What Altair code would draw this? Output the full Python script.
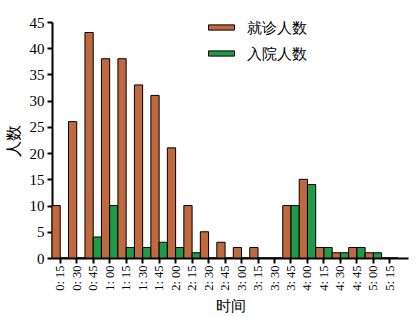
import altair as alt
import pandas as pd

times = ["0:15", "0:30", "0:45", "1:00", "1:15", "1:30", "1:45", "2:00", "2:15", "2:30",
         "2:45", "3:00", "3:15", "3:30", "3:45", "4:00", "4:15", "4:30", "4:45", "5:00", "5:15"]
visits = [10, 26, 43, 38, 38, 33, 31, 21, 10, 5, 3, 2, 2, 0, 10, 15, 2, 1, 2, 1, 0]
admits = [0, 0, 4, 10, 2, 2, 3, 2, 1, 0, 0, 0, 0, 0, 10, 14, 2, 1, 2, 1, 0]
series = ["就诊人数", "入院人数"]
colors = ["#C0693F", "#1E9A48"]

rows = []
for t, v, a in zip(times, visits, admits):
    rows.append({"time": t, "series": series[0], "value": v})
    rows.append({"time": t, "series": series[1], "value": a})
df = pd.DataFrame(rows)

font = "Liberation Serif"

chart = alt.Chart(df).mark_bar(stroke="black", strokeWidth=1).encode(
    x=alt.X("time:N", sort=times,
            scale=alt.Scale(paddingInner=0, paddingOuter=0.3, align=0),
            axis=alt.Axis(title="时间", labelAngle=-90, labelExpr="replace(datum.label, ':', ': ')",
                          labelFontSize=12.5, labelFont=font, labelColor="black",
                          titleFontSize=15, titleFont=font, titleFontWeight="normal", titleColor="black",
                          domainColor="black", domainWidth=2, tickColor="black", tickWidth=2,
                          tickSize=5, labelPadding=2, titlePadding=8)),
    xOffset=alt.XOffset("series:N", sort=series, scale=alt.Scale(paddingInner=0, paddingOuter=0)),
    y=alt.Y("value:Q", scale=alt.Scale(domain=[0, 45], nice=False),
            axis=alt.Axis(title="人数", values=list(range(0, 46, 5)),
                          labelFontSize=15, labelFont=font, labelColor="black",
                          titleFontSize=16, titleFont=font, titleFontWeight="normal", titleColor="black",
                          domainColor="black", domainWidth=2, tickColor="black", tickWidth=2,
                          tickSize=5, grid=False, labelPadding=3, titlePadding=8)),
    color=alt.Color("series:N", sort=series,
                    scale=alt.Scale(domain=series, range=colors),
                    legend=alt.Legend(title=None, orient="none", legendX=156, legendY=-8,
                                      symbolType="M-1,-0.2H1V0.2H-1Z", symbolSize=676,
                                      symbolStrokeColor="black", symbolStrokeWidth=1,
                                      labelFontSize=15, labelFont=font, labelColor="black",
                                      labelOffset=12, rowPadding=4, padding=0)),
).properties(
    width=356, height=236,
    autosize=alt.AutoSizeParams(type="none"),
    padding={"left": 52, "top": 22, "right": 12, "bottom": 59},
).configure(background="white", view=alt.ViewConfig(stroke=None))

chart.save("out.html", embed_options={"renderer": "svg", "actions": False})
